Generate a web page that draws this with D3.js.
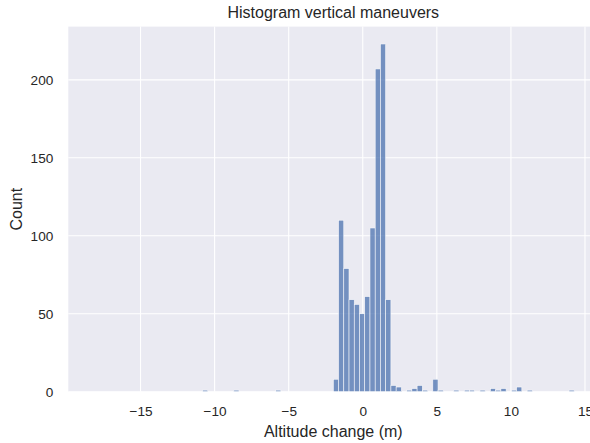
<!DOCTYPE html>
<html>
<head>
<meta charset="utf-8">
<script src="https://cdn.jsdelivr.net/npm/d3@7"></script>
<style>
  html, body { margin: 0; padding: 0; background: #ffffff; }
  svg { display: block; }
  text { font-family: "Liberation Sans", Arial, sans-serif; fill: #262626; }
</style>
</head>
<body>
<svg id="chart" width="590" height="443"></svg>
<script>
// Histogram of altitude changes: bin layout and counts per bin
const binStart = -18.25;
const binWidth = 0.3535;
const counts = [
  0, 0, 0, 0, 0, 0, 0, 0, 0, 0,
  0, 0, 0, 0, 0, 0, 0, 0, 0, 0,
  0, 1, 0, 0, 0, 0, 0, 1, 0, 0,
  0, 0, 0, 0, 0, 1, 0, 0, 0, 0,
  0, 0, 0, 0, 0, 0, 8, 110, 79, 59,
  56, 50, 61, 105, 207, 223, 59, 4, 3, 0,
  1, 2, 4, 1, 0, 8, 1, 0, 0, 1,
  0, 1, 1, 0, 1, 0, 2, 1, 2, 0,
  1, 3, 0, 1, 0, 0, 0, 0, 0, 0,
  0, 1
];
const xTicks = [-15, -10, -5, 0, 5, 10, 15];
const yTicks = [0, 50, 100, 150, 200];
const titleText = "Histogram vertical maneuvers";
const xLabel = "Altitude change (m)";
const yLabel = "Count";

const bins = counts.map((c, i) => ({
  x0: binStart + i * binWidth,
  x1: binStart + (i + 1) * binWidth,
  count: c
}));

// axes box (extends slightly past the right edge of the figure)
const plotLeft = 68.3, plotRight = 598.3, plotTop = 26.6, plotBottom = 391.7;

const xMinData = bins[0].x0, xMaxData = bins[bins.length - 1].x1;
const xPad = 0.05 * (xMaxData - xMinData);
const x = d3.scaleLinear()
  .domain([xMinData - xPad, xMaxData + xPad])
  .range([plotLeft, plotRight]);

const yMax = d3.max(counts) * 1.05;
const y = d3.scaleLinear().domain([0, yMax]).range([plotBottom, plotTop]);

const svg = d3.select("#chart");

svg.append("rect")
  .attr("x", plotLeft).attr("y", plotTop)
  .attr("width", plotRight - plotLeft).attr("height", plotBottom - plotTop)
  .attr("fill", "#EAEAF2");

// grid
const grid = svg.append("g").attr("stroke", "#ffffff").attr("stroke-width", 1.1);
grid.selectAll("line.v").data(xTicks).join("line")
  .attr("class", "v")
  .attr("x1", d => x(d)).attr("x2", d => x(d))
  .attr("y1", plotTop).attr("y2", plotBottom);
grid.selectAll("line.h").data(yTicks).join("line")
  .attr("class", "h")
  .attr("x1", plotLeft).attr("x2", plotRight)
  .attr("y1", d => y(d)).attr("y2", d => y(d));

// bars
svg.append("g")
  .selectAll("rect")
  .data(bins)
  .join("rect")
  .attr("x", d => x(d.x0))
  .attr("width", d => x(d.x1) - x(d.x0))
  .attr("y", d => y(d.count))
  .attr("height", d => y(0) - y(d.count))
  .attr("fill", "#4C72B0")
  .attr("stroke", "#ffffff")
  .attr("stroke-width", 0.6)
  .attr("opacity", 0.75);

// axes (no spines, no tick marks)
const xAxis = svg.append("g")
  .attr("transform", `translate(0,${plotBottom})`)
  .call(d3.axisBottom(x).tickValues(xTicks).tickSize(0).tickPadding(14.5)
    .tickFormat(d => d < 0 ? "\u2212" + Math.abs(d) : String(d)));
xAxis.select(".domain").remove();
xAxis.selectAll("text").style("font-size", "13.6px").attr("fill", "#262626")
  .style("font-family", "Liberation Sans, Arial, sans-serif");

const yAxis = svg.append("g")
  .attr("transform", `translate(${plotLeft},0)`)
  .call(d3.axisLeft(y).tickValues(yTicks).tickSize(0).tickPadding(15));
yAxis.select(".domain").remove();
yAxis.selectAll("text").style("font-size", "13.6px").attr("fill", "#262626")
  .style("font-family", "Liberation Sans, Arial, sans-serif");

svg.append("text")
  .attr("x", (plotLeft + plotRight) / 2).attr("y", 18)
  .attr("text-anchor", "middle")
  .style("font-size", "16px")
  .text(titleText);

svg.append("text")
  .attr("x", (plotLeft + plotRight) / 2).attr("y", 436.5)
  .attr("text-anchor", "middle")
  .style("font-size", "16px")
  .text(xLabel);

svg.append("text")
  .attr("transform", `translate(22,${(plotTop + plotBottom) / 2}) rotate(-90)`)
  .attr("text-anchor", "middle")
  .style("font-size", "16px")
  .text(yLabel);
</script>
</body>
</html>
